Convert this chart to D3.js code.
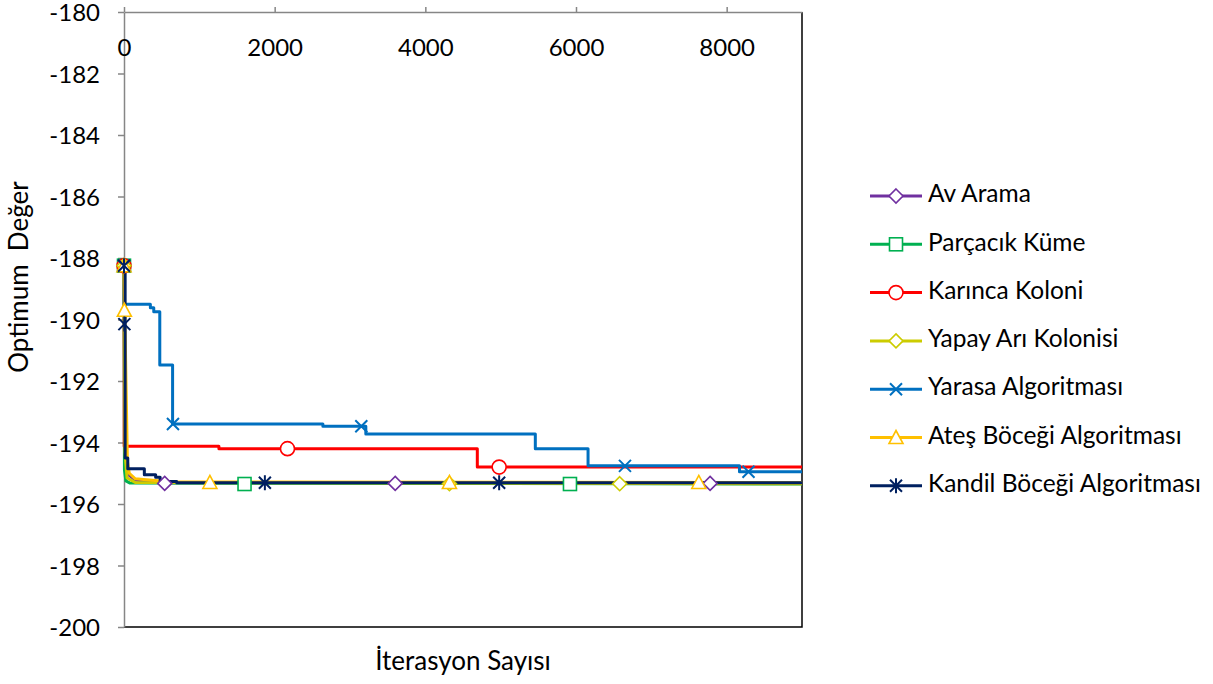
<!DOCTYPE html>
<html>
<head>
<meta charset="utf-8">
<script src="https://cdn.jsdelivr.net/npm/d3@7"></script>
<style>
  body { margin: 0; background: #fff; }
  svg text { font-family: Lato, "Open Sans", sans-serif; fill: #000; }
</style>
</head>
<body>
<svg id="chart" width="1213" height="684"></svg>
<script>
// ---- Data: best objective value found vs. iteration, per algorithm ----
const seriesNames = [
  "Av Arama", "Parçacık Küme", "Karınca Koloni", "Yapay Arı Kolonisi",
  "Yarasa Algoritması", "Ateş Böceği Algoritması", "Kandil Böceği Algoritması"
];

// [iteration, value] vertices of each convergence curve
const avAramaLine = [[0,-188.25],[10,-193.0],[25,-194.6],[60,-195.05],[150,-195.22],[500,-195.31],[9000,-195.33]];
const parcacikLine = [[0,-188.25],[6,-194.9],[25,-195.25],[80,-195.32],[9000,-195.35]];
const karincaLine = [[0,-188.25],[3,-194.12],[1260,-194.2],[4690,-194.8],[9000,-194.8]];
const yapayAriLine = [[0,-188.25],[12,-194.3],[40,-195.15],[150,-195.3],[9000,-195.34]];
const yarasaLine = [[0,-188.25],[3,-189.5],[350,-189.62],[395,-189.75],[475,-191.48],[645,-193.4],[2640,-193.47],[3210,-193.72],[5460,-194.2],[6160,-194.76],[8170,-194.95],[9000,-194.95]];
const atesLine = [[0,-188.25],[10,-189.7],[45,-194.6],[70,-195.0],[150,-195.18],[600,-195.28],[9000,-195.3]];
const kandilLine = [[0,-188.25],[15,-194.5],[50,-194.85],[270,-195.05],[420,-195.13],[480,-195.27],[700,-195.31],[9000,-195.31]];

// [iteration, value] of the plotted sample points (markers)
const avAramaMarks = [[0,-188.25],[540,-195.33],[3600,-195.33],[7780,-195.33]];
const parcacikMarks = [[0,-188.25],[1600,-195.35],[5920,-195.35]];
const karincaMarks = [[0,-188.25],[2170,-194.2],[4980,-194.8]];
const yapayAriMarks = [[0,-188.25],[4320,-195.34],[6580,-195.34]];
const yarasaMarks = [[0,-188.25],[650,-193.4],[3150,-193.47],[6650,-194.76],[8290,-194.95]];
const atesMarks = [[0,-188.25],[5,-189.7],[1140,-195.3],[4320,-195.3],[7630,-195.3]];
const kandilMarks = [[0,-188.25],[5,-190.15],[1870,-195.31],[4980,-195.31]];

const xTicks = [0, 2000, 4000, 6000, 8000];
const yTicks = [-180, -182, -184, -186, -188, -190, -192, -194, -196, -198, -200];
const xTitle = "İterasyon Sayısı";
const yTitle = "Optimum  Değer";

// ---- Styling ----
const colors = ["#7030A0", "#00B050", "#FF0000", "#CCCC00", "#0070C0", "#FFC000", "#002060"];
const symbols = ["diamond", "square", "circle", "diamond", "x", "triangle", "asterisk"];
const stepped = [false, false, true, false, true, false, true];

const lines = [avAramaLine, parcacikLine, karincaLine, yapayAriLine, yarasaLine, atesLine, kandilLine];
const marks = [avAramaMarks, parcacikMarks, karincaMarks, yapayAriMarks, yarasaMarks, atesMarks, kandilMarks];

const series = seriesNames.map((name, i) => ({
  name, color: colors[i], symbol: symbols[i], stepped: stepped[i],
  line: lines[i], marks: marks[i]
}));

const svg = d3.select("#chart");
const plot = { left: 124, right: 802, top: 12, bottom: 627 };

const x = d3.scaleLinear().domain([0, 9000]).range([plot.left, plot.right]);
const y = d3.scaleLinear().domain([-200, -180]).range([plot.bottom, plot.top]);

const axisGray = "#868686";

// Plot-area frame (right and bottom edges)
svg.append("path")
  .attr("d", `M${plot.left},${plot.bottom}H${plot.right}V${plot.top}`)
  .attr("fill", "none").attr("stroke", "#000").attr("stroke-width", 1.5);

// Y axis on the left
const gy = svg.append("g").attr("transform", `translate(${plot.left},0)`)
  .call(d3.axisLeft(y).tickValues(yTicks).tickSize(6).tickSizeOuter(0)
    .tickPadding(18).tickFormat(d => String(d)));
gy.select(".domain").attr("stroke", axisGray).attr("stroke-width", 1.5);
gy.selectAll(".tick line").attr("stroke", axisGray).attr("stroke-width", 1.5);
gy.selectAll(".tick text").attr("font-size", 24).attr("font-family", null)
  .attr("dy", "0.36em");

// X axis along the top, labels placed inside the plot
const gx = svg.append("g").attr("transform", `translate(0,${plot.top})`)
  .call(d3.axisTop(x).tickValues(xTicks).tickSize(5).tickSizeOuter(0)
    .tickFormat(d => String(d)));
gx.select(".domain").attr("stroke", axisGray).attr("stroke-width", 1.5);
gx.selectAll(".tick line").attr("stroke", axisGray).attr("stroke-width", 1.5);
gx.selectAll(".tick text").attr("font-size", 24).attr("font-family", null)
  .attr("y", 35).attr("dy", "0.36em");

// Axis titles
svg.append("text").attr("x", 463).attr("y", 663)
  .attr("text-anchor", "middle").attr("dominant-baseline", "middle")
  .attr("font-size", 26).text(xTitle);
svg.append("text")
  .attr("transform", `translate(21,${277}) rotate(-90)`)
  .attr("text-anchor", "middle").attr("dominant-baseline", "middle")
  .attr("font-size", 26).style("white-space", "pre").text(yTitle);

// Marker drawing
function drawMarker(g, symbol, color) {
  const sw = 1.6;
  if (symbol === "diamond") {
    g.append("path").attr("d", "M0,-7L7,0L0,7L-7,0Z")
      .attr("fill", "#fff").attr("stroke", color).attr("stroke-width", sw);
  } else if (symbol === "square") {
    g.append("rect").attr("x", -6.5).attr("y", -6.5).attr("width", 13).attr("height", 13)
      .attr("fill", "#fff").attr("stroke", color).attr("stroke-width", sw);
  } else if (symbol === "circle") {
    g.append("circle").attr("r", 7)
      .attr("fill", "#fff").attr("stroke", color).attr("stroke-width", sw);
  } else if (symbol === "triangle") {
    g.append("path").attr("d", "M0,-7L7,6L-7,6Z")
      .attr("fill", "#fff").attr("stroke", color).attr("stroke-width", sw);
  } else if (symbol === "x") {
    g.append("path").attr("d", "M-6,-6L6,6M-6,6L6,-6")
      .attr("fill", "none").attr("stroke", color).attr("stroke-width", 2);
  } else if (symbol === "asterisk") {
    g.append("path").attr("d", "M-6,-6L6,6M-6,6L6,-6M0,-7.5L0,7.5")
      .attr("fill", "none").attr("stroke", color).attr("stroke-width", 2);
  }
}

// Convergence curves
const lineLinear = d3.line().x(d => x(d[0])).y(d => y(d[1])).curve(d3.curveLinear);
const lineStep = d3.line().x(d => x(d[0])).y(d => y(d[1])).curve(d3.curveStepAfter);

const linesG = svg.append("g");
series.forEach(s => {
  linesG.append("path").datum(s.line)
    .attr("d", s.stepped ? lineStep : lineLinear)
    .attr("fill", "none").attr("stroke", s.color).attr("stroke-width", 3)
    .attr("stroke-linejoin", "round");
});

// Sample-point markers on top of all curves
const marksG = svg.append("g");
series.forEach(s => {
  s.marks.forEach(d => {
    const g = marksG.append("g").attr("transform", `translate(${x(d[0])},${y(d[1])})`);
    drawMarker(g, s.symbol, s.color);
  });
});

// Legend
const legend = svg.append("g").attr("transform", "translate(870,196)");
series.forEach((s, i) => {
  const row = legend.append("g").attr("transform", `translate(0,${i * 48.3})`);
  row.append("line").attr("x1", 0).attr("x2", 52).attr("y1", 0).attr("y2", 0)
    .attr("stroke", s.color).attr("stroke-width", 3);
  drawMarker(row.append("g").attr("transform", "translate(26,0)"), s.symbol, s.color);
  row.append("text").attr("x", 58).attr("y", 0).attr("dominant-baseline", "middle")
    .attr("font-size", 24.5).text(s.name);
});
</script>
</body>
</html>
